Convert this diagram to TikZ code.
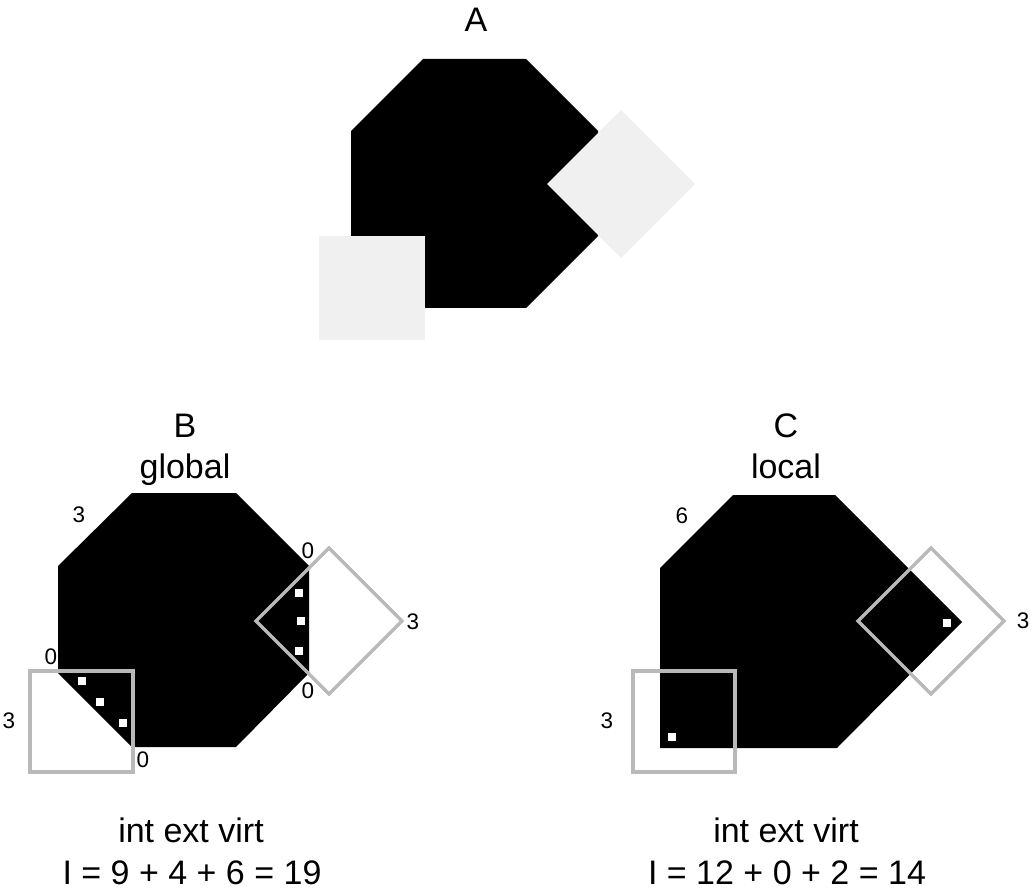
\documentclass[tikz,border=0pt]{standalone}
\usepackage{fontspec}
\setmainfont{Liberation Sans}
\usepackage{tikz}

\tikzset{
  big/.style={font=\fontsize{34}{40}\selectfont,inner sep=0pt,anchor=base},
  num/.style={font=\fontsize{22.5}{26}\selectfont,inner sep=0pt},
  blob/.style={fill=black},
  light/.style={fill=black!6},
  window/.style={draw=gray!55,line width=3.5pt},
  pix/.style={fill=white,minimum size=8pt,inner sep=0pt}
}

\begin{document}
\begin{tikzpicture}[x=1pt,y=-1pt]
  \useasboundingbox (0,0) rectangle (1034,893);

  % A
  \node[big] (titleA) at (476,32) {A};
  \fill[blob] (423,59) -- (526,59) -- (598,131) -- (598,236) -- (526,308)
    -- (423,308) -- (351,236) -- (351,131) -- cycle;
  \fill[light] (319,236) rectangle (425,340);
  \fill[light] (547,184) -- (621,110) -- (695,184) -- (621,258) -- cycle;

  % B
  \node[big] (titleB) at (185,437) {B};
  \node[big] (globalB) at (185,478) {global};
  \fill[blob] (132,493) -- (236,493) -- (309,566) -- (309,673) -- (236,747)
    -- (132,747) -- (58,673) -- (58,566) -- cycle;
  \foreach \x/\y [count=\i] in {82/681,100/702,123/723}
    \node[pix] (pixBl\i) at (\x,\y) {};
  \foreach \x/\y [count=\i] in {299/593,301/621,299/651}
    \node[pix] (pixBr\i) at (\x,\y) {};
  \draw[window] (30,671) rectangle (133,772);
  \draw[window] (256,621) -- (329,548) -- (402,621) -- (329,694) -- cycle;
  \node[num] (nB1) at (79,515) {3};
  \node[num] (nB2) at (308,551) {0};
  \node[num] (nB3) at (413,622) {3};
  \node[num] (nB4) at (308,691) {0};
  \node[num] (nB5) at (51,657) {0};
  \node[num] (nB6) at (9,721) {3};
  \node[num] (nB7) at (143,760) {0};
  \node[big] (kindsB) at (191,842) {int ext virt};
  \node[big] (sumB) at (192,884) {I = 9 + 4 + 6 = 19};

  % C
  \node[big] (titleC) at (786,437) {C};
  \node[big] (localC) at (786,478) {local};
  \fill[blob] (733,495) -- (835,495) -- (962,622) -- (837,748) -- (660,748)
    -- (660,568) -- cycle;
  \node[pix] (pixCr) at (947,623) {};
  \node[pix] (pixCl) at (672,737) {};
  \draw[window] (633,671) rectangle (735,772);
  \draw[window] (858,621) -- (931,548) -- (1004,621) -- (931,694) -- cycle;
  \node[num] (nC1) at (682,516) {6};
  \node[num] (nC2) at (607,721) {3};
  \node[num] (nC3) at (1023,621) {3};
  \node[big] (kindsC) at (786,842) {int ext virt};
  \node[big] (sumC) at (787,884) {I = 12 + 0 + 2 = 14};
\end{tikzpicture}
\end{document}
